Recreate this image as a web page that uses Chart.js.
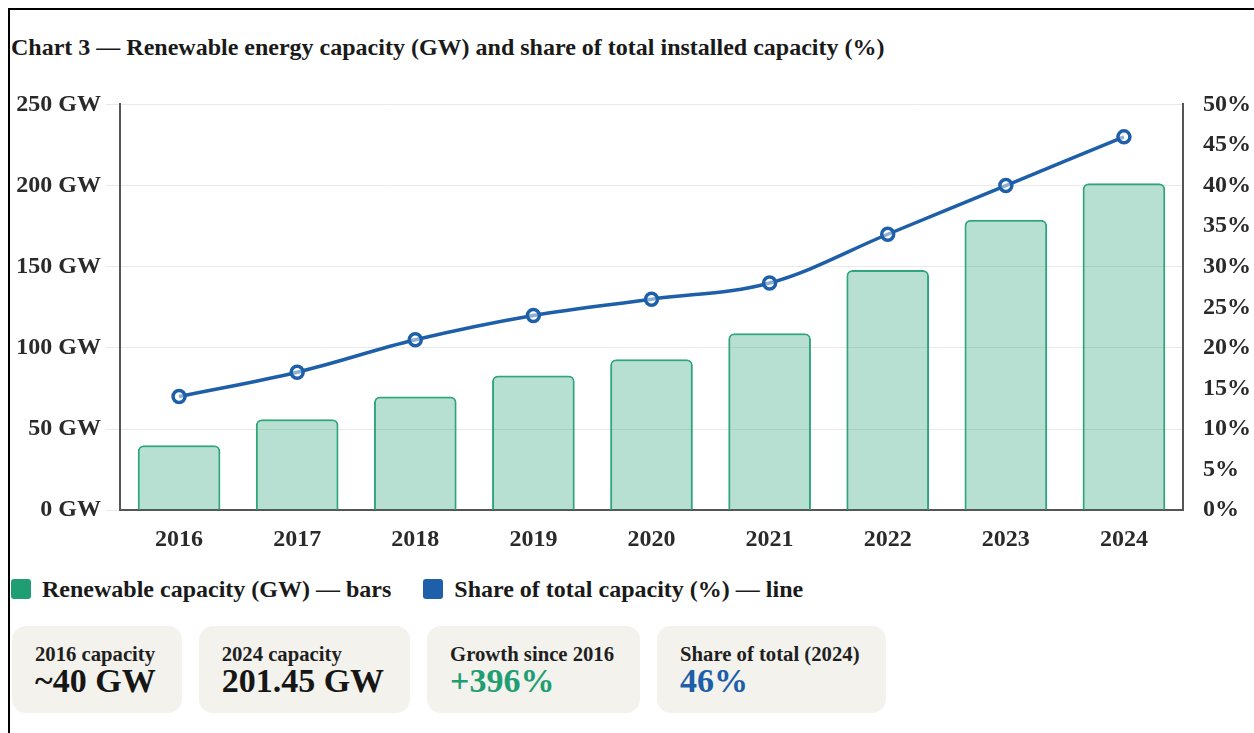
<!DOCTYPE html>
<html>
<head>
<meta charset="utf-8">
<script src="https://cdn.jsdelivr.net/npm/chart.js@4/dist/chart.umd.min.js"></script>
<style>
  html, body { margin: 0; padding: 0; background: #fff; overflow: hidden; }
  body { padding: 8px 0 0 8px; font-family: "Liberation Serif", "Times New Roman", serif; color: #1a1a1a; }
  .frame { border-left: 2px solid #000; border-top: 2px solid #000; width: 1300px; height: 800px; box-sizing: border-box; }
  .title { height: 60px; box-sizing: border-box; padding-top: 24px; line-height: 26px; font-size: 24px; font-weight: bold; padding-left: 1px; white-space: nowrap; }
  .chartwrap { position: relative; width: 1244px; height: 499px; }
  .legend { margin-top: 8px; height: 24px; display: flex; align-items: center; padding-left: 1px; font-size: 24px; font-weight: bold; line-height: 24px; white-space: nowrap; }
  .legend .item { display: flex; align-items: center; margin-right: 32px; }
  .legend .sw { width: 20px; height: 20px; border-radius: 3px; margin-right: 11px; }
  .cards { margin-top: 25px; display: flex; padding-left: 2px; }
  .card { background: #f3f2ec; border-radius: 14px; height: 87px; box-sizing: border-box; padding: 16px 26px 0 23px; margin-right: 17px; white-space: nowrap; }
  .card .lab { font-size: 20.7px; font-weight: bold; line-height: 24px; color: #1f1f1f; }
  .card .val { font-size: 34px; font-weight: bold; line-height: 30px; color: #161616; }
</style>
</head>
<body>
<div class="frame">
  <div class="title">Chart 3 — Renewable energy capacity (GW) and share of total installed capacity (%)</div>
  <div class="chartwrap"><canvas id="c"></canvas></div>
  <div class="legend">
    <div class="item"><div class="sw" style="background:#1f9e74"></div>Renewable capacity (GW) — bars</div>
    <div class="item"><div class="sw" style="background:#1d5fa8"></div>Share of total capacity (%) — line</div>
  </div>
  <div class="cards">
    <div class="card"><div class="lab">2016 capacity</div><div class="val">~40 GW</div></div>
    <div class="card"><div class="lab">2024 capacity</div><div class="val">201.45 GW</div></div>
    <div class="card"><div class="lab">Growth since 2016</div><div class="val" style="color:#1f9e74">+396%</div></div>
    <div class="card"><div class="lab">Share of total (2024)</div><div class="val" style="color:#1d5fa8">46%</div></div>
  </div>
</div>
<script>
const years = ["2016", "2017", "2018", "2019", "2020", "2021", "2022", "2023", "2024"];
const capacityGW = [40, 56, 70, 83, 93, 109, 148, 179, 201.45];
const sharePct = [14, 17, 21, 24, 26, 28, 34, 40, 46];
const gwTicks = [0, 50, 100, 150, 200, 250];
const pctTicks = [0, 5, 10, 15, 20, 25, 30, 35, 40, 45, 50];

const tickFont = { family: "'Liberation Serif', 'Times New Roman', serif", size: 24, weight: 'bold' };

new Chart(document.getElementById('c'), {
  data: {
    labels: years,
    datasets: [
      {
        type: 'line',
        label: 'Share of total capacity (%)',
        data: sharePct,
        yAxisID: 'y1',
        borderColor: '#1d5fa8',
        borderWidth: 3.5,
        tension: 0.35,
        pointRadius: 6,
        pointBorderWidth: 3.5,
        pointBackgroundColor: 'rgba(255,255,255,0.5)',
        pointBorderColor: '#1d5fa8',
        order: 0
      },
      {
        type: 'bar',
        label: 'Renewable capacity (GW)',
        data: capacityGW,
        yAxisID: 'y',
        backgroundColor: 'rgba(31,158,116,0.32)',
        borderColor: '#2ea67a',
        borderWidth: 2,
        borderRadius: 6,
        borderSkipped: 'bottom',
        categoryPercentage: 0.8,
        barPercentage: 0.875,
        order: 1
      }
    ]
  },
  options: {
    responsive: true,
    maintainAspectRatio: false,
    animation: false,
    layout: { padding: { top: 0, left: 0, right: 0, bottom: 0 } },
    plugins: { legend: { display: false }, tooltip: { enabled: false } },
    scales: {
      x: {
        grid: { display: false, drawTicks: false },
        border: { display: true, color: '#555', width: 2 },
        ticks: { font: tickFont, color: '#2a2a2a', padding: 15 }
      },
      y: {
        position: 'left',
        min: 0, max: 250,
        afterBuildTicks: (s) => { s.ticks = gwTicks.map(v => ({ value: v })); },
        afterFit: (s) => { s.width = 110; },
        grid: { color: '#e9e9e9', lineWidth: 1, tickLength: 14, drawTicks: true },
        border: { display: true, color: '#555', width: 2 },
        ticks: { font: tickFont, color: '#2a2a2a', padding: 5, callback: (v) => v + ' GW' }
      },
      y1: {
        position: 'right',
        min: 0, max: 50,
        afterBuildTicks: (s) => { s.ticks = pctTicks.map(v => ({ value: v })); },
        afterFit: (s) => { s.width = 71; },
        grid: { drawOnChartArea: false, drawTicks: false },
        border: { display: true, color: '#555', width: 2 },
        ticks: { font: tickFont, color: '#2a2a2a', padding: 20, callback: (v) => v + '%' }
      }
    }
  }
});
</script>
</body>
</html>
